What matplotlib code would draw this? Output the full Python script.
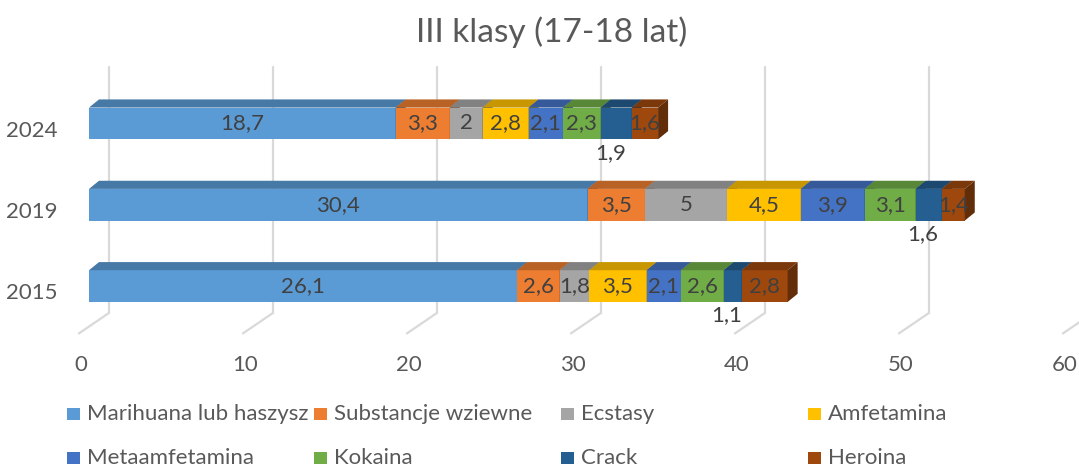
import matplotlib
matplotlib.use("Agg")
import matplotlib.pyplot as plt
from matplotlib.patches import Polygon, Rectangle
from matplotlib.colors import to_rgb

plt.rcParams["font.family"] = ["Lato", "DejaVu Sans"]

YEARS = ["2015", "2019", "2024"]
SERIES = ["Marihuana lub haszysz", "Substancje wziewne", "Ecstasy", "Amfetamina",
          "Metaamfetamina", "Kokaina", "Crack", "Heroina"]
COLORS = ["#5B9BD5", "#ED7D31", "#A5A5A5", "#FFC000",
          "#4472C4", "#70AD47", "#255E91", "#9E480E"]

# values per year, order as YEARS
marihuana = [26.1, 30.4, 18.7]
wziewne = [2.6, 3.5, 3.3]
ecstasy = [1.8, 5.0, 2.0]
amfetamina = [3.5, 4.5, 2.8]
metaamfetamina = [2.1, 3.9, 2.1]
kokaina = [2.6, 3.1, 2.3]
crack = [1.1, 1.6, 1.9]
heroina = [2.8, 1.4, 1.6]
VALUES = [marihuana, wziewne, ecstasy, amfetamina, metaamfetamina, kokaina, crack, heroina]

XTICKS = [0, 10, 20, 30, 40, 50, 60]

TEXT = "#595959"
LABEL = "#404040"
GRID = "#D9D9D9"
FS = 16

# fake 3D geometry, in data units
BAR_H = 0.39
DX, DY = 0.61, 0.10          # bar depth
WALL_DX = 1.22               # back wall offset
GRID_TOP, GRID_BOT = 2.69, -0.33
FLOOR_DX, FLOOR_Y = -0.6, -0.58


def shade(color, f):
    r, g, b = to_rgb(color)
    return (r * f, g * f, b * f)


def fmt(v):
    return f"{v:g}".replace(".", ",")


W, H = 1079, 468
fig = plt.figure(figsize=(W / 100, H / 100), dpi=100)
ax = fig.add_axes([89 / W, 1 - 326.75 / H, 984 / W, 244 / H])
ax.set_xlim(0, 60)
ax.set_ylim(-0.5, 2.5)
ax.axis("off")

# back wall gridlines + floor diagonals
for t in XTICKS:
    ax.plot([t + WALL_DX, t + WALL_DX, t + FLOOR_DX],
            [GRID_TOP, GRID_BOT, FLOOR_Y],
            color=GRID, lw=1.6, zorder=0, clip_on=False,
            solid_joinstyle="miter")
    ax.text(t - 0.5, -0.97, str(t), ha="center", va="center",
            fontsize=FS, color=TEXT, clip_on=False)

ypos = list(range(len(YEARS)))
left = [0.0] * len(YEARS)
for i, (name, vals, col) in enumerate(zip(SERIES, VALUES, COLORS)):
    ax.barh(ypos, vals, left=left, height=BAR_H, color=col, zorder=2)
    for y, l, v in zip(ypos, left, vals):
        top = y + BAR_H / 2
        bot = y - BAR_H / 2
        ax.add_patch(Polygon([(l, top), (l + v, top), (l + v + DX, top + DY), (l + DX, top + DY)],
                             closed=True, facecolor=shade(col, 0.78), edgecolor="none", zorder=2))
        ax.add_patch(Polygon([(l + v, bot), (l + v + DX, bot + DY), (l + v + DX, top + DY), (l + v, top)],
                             closed=True, facecolor=shade(col, 0.62), edgecolor="none", zorder=2))
        if name == "Crack":
            ax.text(l + v / 2 - 0.35, y - 0.36, fmt(v), ha="center", va="center",
                    fontsize=FS, color=LABEL, zorder=4)
        else:
            ax.text(l + v / 2, y, fmt(v), ha="center", va="center",
                    fontsize=FS, color=LABEL, zorder=4)
    left = [a + b for a, b in zip(left, vals)]

for y, yr in zip(ypos, YEARS):
    ax.text(-1.9, y - 0.09, yr, ha="right", va="center", fontsize=FS,
            color=TEXT, clip_on=False)

fig.text(552 / W, 1 - 32 / H, "III klasy (17-18 lat)", ha="center", va="center",
         fontsize=24, color=TEXT)

# legend laid out like the Excel one: 4 equal columns, 2 rows
for i, (name, col) in enumerate(zip(SERIES, COLORS)):
    cx = 67 + 247 * (i % 4)
    cy = 414 + 44 * (i // 4)
    fig.patches.append(Rectangle((cx / W, 1 - (cy + 6) / H), 13 / W, 12 / H,
                                 transform=fig.transFigure, facecolor=col,
                                 edgecolor="none"))
    fig.text((cx + 20) / W, 1 - cy / H, name, ha="left", va="center",
             fontsize=FS, color=TEXT)

fig.savefig("out.png", dpi=100)
